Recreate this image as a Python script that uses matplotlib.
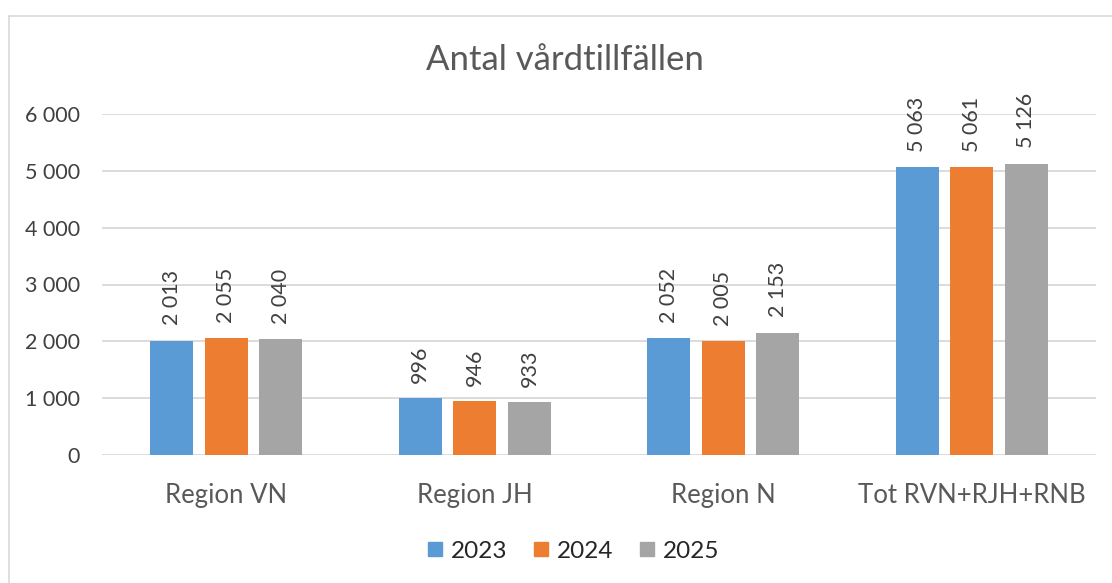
import matplotlib
matplotlib.use("Agg")
import matplotlib.pyplot as plt
import numpy as np
from matplotlib.lines import Line2D
from matplotlib.ticker import FuncFormatter

# data
categories = ["Region VN", "Region JH", "Region N", "Tot RVN+RJH+RNB"]
years = ["2023", "2024", "2025"]
v2023 = [2013, 996, 2052, 5063]
v2024 = [2055, 946, 2005, 5061]
v2025 = [2040, 933, 2153, 5126]
yticks = [0, 1000, 2000, 3000, 4000, 5000, 6000]

colors = ["#5B9BD5", "#ED7D31", "#A5A5A5"]
text_col = "#595959"

plt.rcParams['font.family'] = ['Lato', 'DejaVu Sans']

W, H = 1112, 583
fig = plt.figure(figsize=(W / 100, H / 100), dpi=100)
ax = fig.add_axes([102 / W, 1 - 455 / H, 994 / W, 341 / H])

def sp(v):
    return f"{v:,.0f}".replace(",", " ")

x = np.arange(len(categories))
width = 0.173
step = 0.22
for i, (vals, yr) in enumerate(zip([v2023, v2024, v2025], years)):
    bars = ax.bar(x + (i - 1) * step, vals, width, color=colors[i], label=yr, zorder=3)
    for b, v in zip(bars, vals):
        ax.annotate(sp(v), (b.get_x() + b.get_width() / 2, v), xytext=(0, 11),
                    textcoords="offset points", rotation=90, ha="center", va="bottom",
                    fontsize=15.5, color="#404040", annotation_clip=False)

ax.set_xlim(-0.5, len(categories) - 0.5)
ax.set_ylim(0, 6000)
ax.set_yticks(yticks)
ax.yaxis.set_major_formatter(FuncFormatter(lambda v, p: sp(v)))
ax.set_xticks(x)
ax.set_xticklabels(categories)
ax.tick_params(axis="y", length=0, pad=16, labelsize=15.5, labelcolor="#404040")
ax.tick_params(axis="x", length=0, pad=20, labelsize=18.5, labelcolor=text_col)
ax.grid(axis="y", color="#D9D9D9", linewidth=1.3, zorder=0)
for s in ax.spines.values():
    s.set_visible(False)

fig.text(565 / W, 1 - 60 / H, "Antal vårdtillfällen", ha="center", va="center",
         fontsize=25, color=text_col)

handles = [Line2D([], [], marker="s", linestyle="none", markersize=9.5, color=c) for c in colors]
fig.legend(handles, years, loc="center", bbox_to_anchor=(570 / W, 1 - 551 / H), ncol=3,
           frameon=False, fontsize=17.5, handletextpad=0.05, columnspacing=0.8,
           handlelength=1.2, labelcolor="#262626")

# chart area border (light gray, only top/left visible in crop)
fig.add_artist(Line2D([8.5 / W, 8.5 / W], [0, 1 - 15.5 / H], transform=fig.transFigure,
                      color="#D9D9D9", linewidth=1.2))
fig.add_artist(Line2D([8.5 / W, 1], [1 - 15.5 / H, 1 - 15.5 / H], transform=fig.transFigure,
                      color="#D9D9D9", linewidth=1.2))

fig.savefig("out.png", dpi=100)
